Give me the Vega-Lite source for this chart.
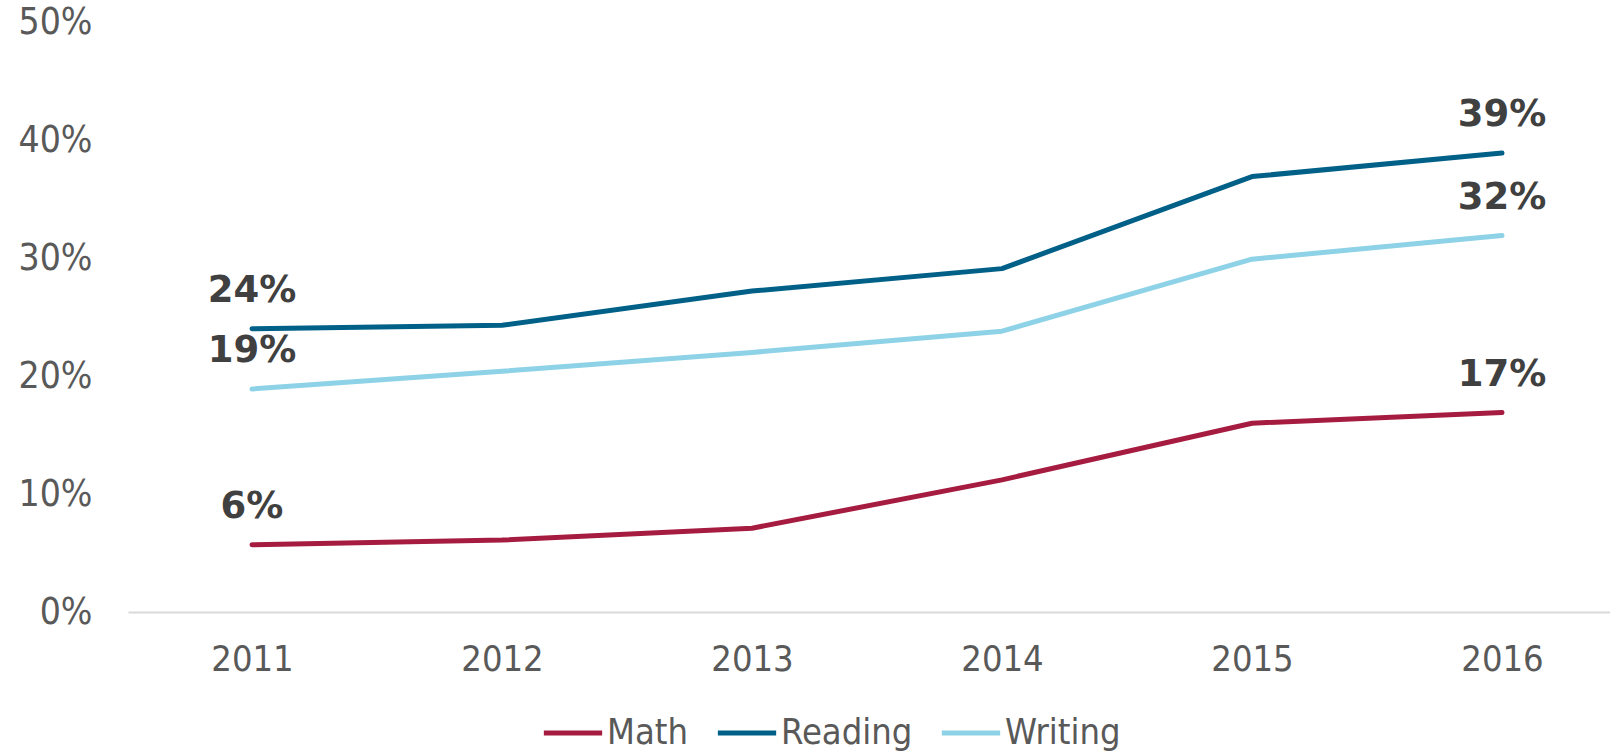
{
  "$schema": "https://vega.github.io/schema/vega-lite/v6.json",
  "width": 1482,
  "height": 590,
  "autosize": "none",
  "padding": {"left": 128, "top": 22, "right": 0, "bottom": 139},
  "background": "white",
  "config": {"view": {"stroke": null}},
  "data": {
    "values": [
      {"year": 2011, "subject": "Math", "value": 0.057},
      {"year": 2012, "subject": "Math", "value": 0.061},
      {"year": 2013, "subject": "Math", "value": 0.071},
      {"year": 2014, "subject": "Math", "value": 0.112},
      {"year": 2015, "subject": "Math", "value": 0.160},
      {"year": 2016, "subject": "Math", "value": 0.169},
      {"year": 2011, "subject": "Reading", "value": 0.240},
      {"year": 2012, "subject": "Reading", "value": 0.243},
      {"year": 2013, "subject": "Reading", "value": 0.272},
      {"year": 2014, "subject": "Reading", "value": 0.291},
      {"year": 2015, "subject": "Reading", "value": 0.369},
      {"year": 2016, "subject": "Reading", "value": 0.389},
      {"year": 2011, "subject": "Writing", "value": 0.189},
      {"year": 2012, "subject": "Writing", "value": 0.204},
      {"year": 2013, "subject": "Writing", "value": 0.220},
      {"year": 2014, "subject": "Writing", "value": 0.238},
      {"year": 2015, "subject": "Writing", "value": 0.299},
      {"year": 2016, "subject": "Writing", "value": 0.319}
    ]
  },
  "encoding": {
    "x": {
      "field": "year",
      "type": "quantitative",
      "scale": {"domain": [2010.504, 2016.432], "nice": false, "zero": false},
      "axis": {
        "title": null,
        "values": [2011, 2012, 2013, 2014, 2015, 2016],
        "format": "d",
        "grid": false,
        "ticks": false,
        "domain": true,
        "domainColor": "#D9D9D9",
        "domainWidth": 2,
        "labelFont": "DejaVu Sans Condensed",
        "labelFontSize": 36,
        "labelColor": "#595959",
        "labelPadding": 30
      }
    },
    "y": {
      "field": "value",
      "type": "quantitative",
      "scale": {"domain": [0, 0.5], "nice": false},
      "axis": {
        "title": null,
        "values": [0, 0.1, 0.2, 0.3, 0.4, 0.5],
        "format": ".0%",
        "grid": false,
        "ticks": false,
        "domain": false,
        "labelFont": "DejaVu Sans Condensed",
        "labelFontSize": 37,
        "labelColor": "#595959",
        "labelPadding": 36
      }
    }
  },
  "layer": [
    {
      "mark": {"type": "line", "strokeWidth": 5, "strokeCap": "round", "strokeJoin": "round"},
      "encoding": {
        "color": {
          "field": "subject",
          "type": "nominal",
          "scale": {"domain": ["Math", "Reading", "Writing"], "range": ["#A51C40", "#006087", "#8DD2E6"]},
          "legend": {
            "title": null,
            "orient": "none",
            "direction": "horizontal",
            "legendX": 413,
            "legendY": 679,
            "symbolType": "stroke",
            "symbolSize": 3400,
            "symbolStrokeWidth": 5,
            "labelFont": "DejaVu Sans Condensed",
            "labelFontSize": 36,
            "labelColor": "#595959",
            "labelOffset": 2,
            "columnPadding": 18
          }
        }
      }
    },
    {
      "transform": [{"filter": "datum.year == 2011 || datum.year == 2016"}],
      "mark": {"type": "text", "dy": -38, "baseline": "middle", "align": "center", "font": "DejaVu Sans", "fontWeight": "bold", "fontSize": 37, "color": "#404040"},
      "encoding": {
        "text": {"field": "value", "type": "quantitative", "format": ".0%"}
      }
    }
  ]
}
